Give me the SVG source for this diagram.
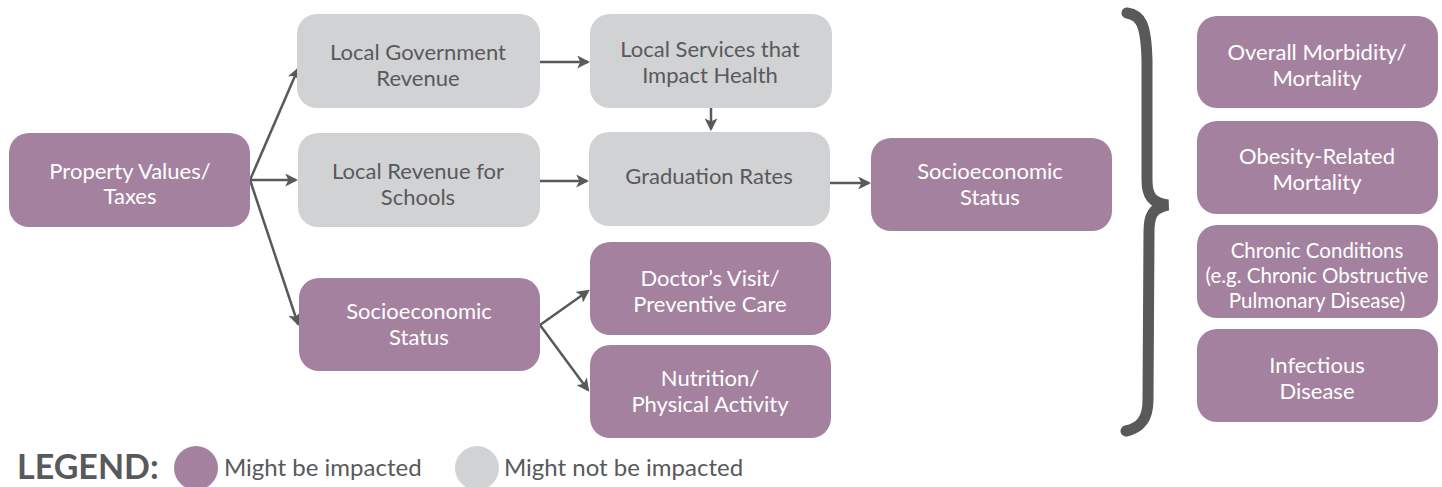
<svg xmlns="http://www.w3.org/2000/svg" width="1442" height="487" viewBox="0 0 1442 487">
<defs>
<marker id="ah" viewBox="0 0 12 12" refX="10" refY="6" markerWidth="13" markerHeight="13" markerUnits="userSpaceOnUse" orient="auto">
<path d="M0,0 L12,6 L0,12 L3,6 Z" fill="#58595b"/>
</marker>
<style>
.p{fill:#a4829f}
.g{fill:#d1d2d4}
.t{font-family:Lato,"Open Sans",sans-serif;font-size:22px;text-anchor:middle}
.w{fill:#ffffff}
.d{fill:#58595b}
.c{stroke:#58595b;stroke-width:2.5;fill:none;marker-end:url(#ah)}
.s{font-size:20.5px}
.l{font-family:Lato,"Open Sans",sans-serif;font-size:24px;fill:#58595b}
</style>
</defs>
<rect width="1442" height="487" fill="#ffffff"/>
<g id="connectors">
<path class="c" d="M250,180 L298,69"/>
<path class="c" d="M250,180 L296,180"/>
<path class="c" d="M250,180 L298,324"/>
<path class="c" d="M540,62 L588,62"/>
<path class="c" d="M711,108 L711,129"/>
<path class="c" d="M540,181 L587,181"/>
<path class="c" d="M830,183 L869,183"/>
<path class="c" d="M540,325 L588,291"/>
<path class="c" d="M540,325 L588,390"/>
<path id="brace" d="M1127,13 C1141,15 1146,24 1147,60 L1147,180 C1147,196 1152,203 1168,205 C1152,208 1149,216 1149,232 L1148,400 C1148,420 1140,428 1126,431" fill="none" stroke="#58595b" stroke-width="11" stroke-linecap="round"/>
</g>
<g id="property"><rect class="p" x="9" y="133" width="241" height="94" rx="20"/><text class="t w" x="130" y="179">Property Values/</text><text class="t w" x="130" y="204">Taxes</text></g>
<g id="lgr"><rect class="g" x="297" y="14" width="243" height="94" rx="20"/><text class="t d" x="418" y="60">Local Government</text><text class="t d" x="418" y="86">Revenue</text></g>
<g id="services"><rect class="g" x="590" y="14" width="242" height="94" rx="20"/><text class="t d" x="710" y="57">Local Services that</text><text class="t d" x="710" y="83">Impact Health</text></g>
<g id="schools"><rect class="g" x="298" y="133" width="242" height="94" rx="20"/><text class="t d" x="418" y="179">Local Revenue for</text><text class="t d" x="418" y="205">Schools</text></g>
<g id="graduation"><rect class="g" x="589" y="132" width="241" height="94" rx="20"/><text class="t d" x="709" y="184">Graduation Rates</text></g>
<g id="ses-right"><rect class="p" x="871" y="138" width="241" height="93" rx="20"/><text class="t w" x="990" y="179">Socioeconomic</text><text class="t w" x="990" y="205">Status</text></g>
<g id="ses-lower"><rect class="p" x="299" y="278" width="241" height="93" rx="20"/><text class="t w" x="419" y="319">Socioeconomic</text><text class="t w" x="419" y="345">Status</text></g>
<g id="doctor"><rect class="p" x="590" y="242" width="241" height="93" rx="20"/><text class="t w" x="710" y="286">Doctor’s Visit/</text><text class="t w" x="710" y="312">Preventive Care</text></g>
<g id="nutrition"><rect class="p" x="590" y="345" width="241" height="93" rx="20"/><text class="t w" x="710" y="386">Nutrition/</text><text class="t w" x="710" y="412">Physical Activity</text></g>
<g id="morbidity"><rect class="p" x="1197" y="16" width="241" height="92" rx="20"/><text class="t w" x="1317" y="60">Overall Morbidity/</text><text class="t w" x="1317" y="86">Mortality</text></g>
<g id="obesity"><rect class="p" x="1197" y="121" width="241" height="93" rx="20"/><text class="t w" x="1317" y="164">Obesity-Related</text><text class="t w" x="1317" y="190">Mortality</text></g>
<g id="chronic"><rect class="p" x="1197" y="225" width="241" height="93" rx="20"/><text class="t w s" x="1317" y="258">Chronic Conditions</text><text class="t w s" x="1317" y="283">(e.g. Chronic Obstructive</text><text class="t w s" x="1317" y="308">Pulmonary Disease)</text></g>
<g id="infectious"><rect class="p" x="1197" y="329" width="241" height="93" rx="20"/><text class="t w" x="1317" y="373">Infectious</text><text class="t w" x="1317" y="399">Disease</text></g>
<g id="legend">
<text x="17" y="479" style="font-family:Lato,'Open Sans',sans-serif;font-size:34px;font-weight:bold" fill="#58595b">LEGEND:</text>
<circle cx="196" cy="468" r="22" class="p"/>
<text class="l" x="224" y="476">Might be impacted</text>
<circle cx="477" cy="468" r="22" class="g"/>
<text class="l" x="504" y="476">Might not be impacted</text>
</g>
</svg>
